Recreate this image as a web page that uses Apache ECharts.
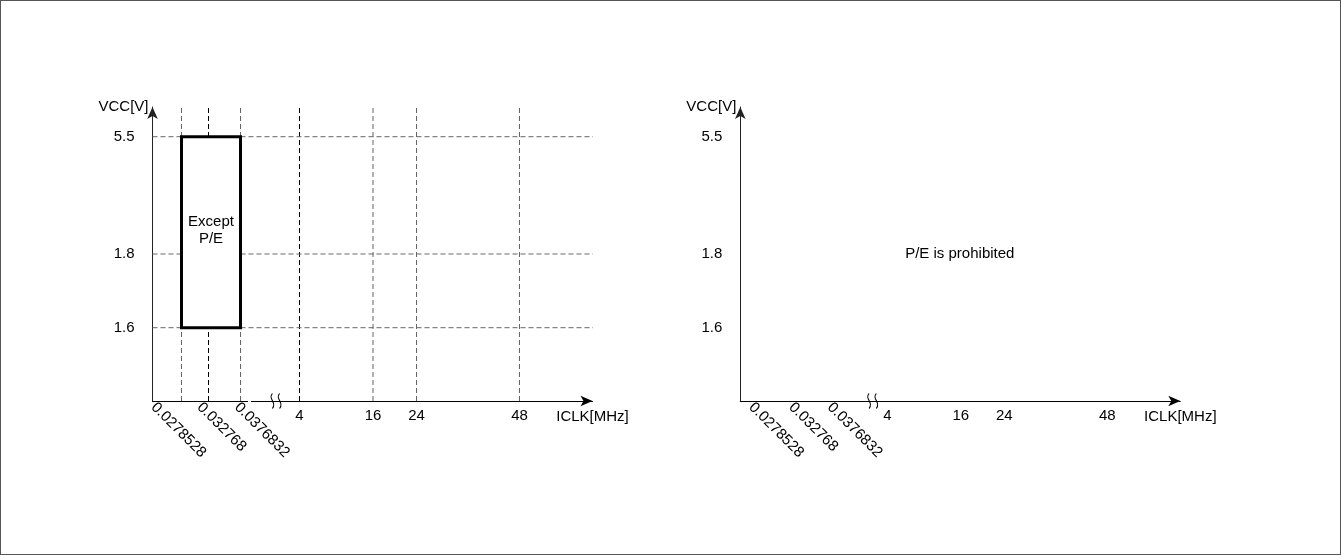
<!DOCTYPE html>
<html>
<head>
	<meta charset="UTF-8">
	<title></title>
	<script src="https://cdn.jsdelivr.net/npm/echarts@6/dist/echarts.min.js"></script>
	<style>
		html, body { margin: 0; padding: 0; background: #fff; }
		#main { width: 1341px; height: 555px; box-sizing: border-box; border: 1px solid #555; }
	</style>
</head>
<body>
	<div id="main"></div>
	<script type="text/javascript">
		// ICLK ticks (MHz) and where each sits on the schematic (non linear) axis
		var iclkLabels = ['0.0278528', '0.032768', '0.0376832', '4', '16', '24', '48'];
		var iclkAxisPos = [29, 56, 88, 147, 220.5, 264, 367];
		// VCC ticks (V) and their schematic axis positions
		var vccLabels = ['1.6', '1.8', '5.5'];
		var vccAxisPos = [73.3, 147, 264.3];
		// P/E window of the left chart
		var peFreq = ['0.0278528', '0.0376832'];
		var peVcc = ['1.6', '5.5'];
		var peText = 'Except\nP/E';
		var prohibitedText = 'P/E is prohibited';

		var X_MAX = 440, Y_MAX = 294;
		var font = 'Liberation Sans, Arial, sans-serif';

		function xOf(lbl) { return iclkAxisPos[iclkLabels.indexOf(lbl)]; }
		function yOf(lbl) { return vccAxisPos[vccLabels.indexOf(lbl)]; }
		function nearest(v, pos, labels) {
			for (var i = 0; i < pos.length; i++) {
				if (Math.abs(pos[i] - v) < 0.01) return labels[i];
			}
			return '';
		}

		// two panels: left has the grid + window, right just the note
		var panels = [
			{ left: 151.5, withGrid: true, rotAnchors: [1, 47, 84.5], breakAt: 123.5, gapAt: 97 },
			{ left: 739.3, withGrid: false, rotAnchors: [11, 51, 89.5], breakAt: 132.4, gapAt: null }
		];
		var darkLines = ['0.032768', '4'];
		var breakPath = 'path://M3,0 C-1,5 7,8 3,14 M9,0 C5,5 13,8 9,14';

		var grids = [], xAxes = [], yAxes = [], series = [];

		panels.forEach(function(p, i) {
			grids.push({ left: p.left, top: 106, width: X_MAX, height: Y_MAX });
			var rotLabels = iclkLabels.slice(0, 3);
			xAxes.push({
				gridIndex: i, type: 'value', min: 0, max: X_MAX,
				axisLine: {
					show: true, symbol: ['none', 'arrow'], symbolSize: [8, 12], symbolOffset: [0, 0],
					lineStyle: { color: '#000', width: 1 }
				},
				axisTick: { show: false }, splitLine: { show: false },
				axisLabel: {
					show: true, customValues: iclkAxisPos.slice(3), margin: 7,
					color: '#000', fontSize: 15, fontFamily: font,
					formatter: function(v) { return nearest(v, iclkAxisPos, iclkLabels); }
				},
				name: 'ICLK[MHz]', nameLocation: 'end', nameGap: 0, nameMoveOverlap: false,
				nameTextStyle: { align: 'center', verticalAlign: 'top', padding: [8, 0, 0, 0], color: '#000', fontSize: 15, fontFamily: font }
			});
			xAxes.push({
				gridIndex: i, type: 'value', min: 0, max: X_MAX, position: 'bottom',
				axisLine: { show: false }, axisTick: { show: false }, splitLine: { show: false },
				axisLabel: {
					show: true, customValues: p.rotAnchors, rotate: -45, margin: 4,
					color: '#000', fontSize: 15, fontFamily: font,
					formatter: function(v) { return nearest(v, p.rotAnchors, rotLabels); }
				}
			});
			yAxes.push({
				gridIndex: i, type: 'value', min: 0, max: Y_MAX,
				axisLine: {
					show: true, symbol: ['none', 'arrow'], symbolSize: [8, 12], symbolOffset: [0, 0],
					lineStyle: { color: '#222', width: 1 }
				},
				axisTick: { show: false }, splitLine: { show: false },
				axisLabel: {
					show: true, customValues: vccAxisPos, margin: 18,
					color: '#000', fontSize: 15, fontFamily: font,
					formatter: function(v) { return nearest(v, vccAxisPos, vccLabels); }
				},
				name: 'VCC[V]', nameLocation: 'end', nameGap: 0, nameMoveOverlap: false,
				nameTextStyle: { align: 'right', verticalAlign: 'middle', padding: [2, 4, 0, 0], color: '#000', fontSize: 15, fontFamily: font }
			});

			var xi = i * 2, yi = i;
			if (p.withGrid) {
				iclkLabels.forEach(function(lbl, k) {
					series.push({
						type: 'line', xAxisIndex: xi, yAxisIndex: yi, silent: true, symbol: 'none', z: 1,
						data: [[iclkAxisPos[k], 0], [iclkAxisPos[k], Y_MAX]],
						lineStyle: { type: [5, 3], width: 1, color: darkLines.indexOf(lbl) >= 0 ? '#000' : '#666' }
					});
				});
				vccLabels.forEach(function(lbl, k) {
					series.push({
						type: 'line', xAxisIndex: xi, yAxisIndex: yi, silent: true, symbol: 'none', z: 1,
						data: [[0, vccAxisPos[k]], [X_MAX + 1.5, vccAxisPos[k]]],
						lineStyle: { type: [5, 3], width: 1, color: '#666' }
					});
				});
				var x0 = xOf(peFreq[0]), x1 = xOf(peFreq[1]);
				var y0 = yOf(peVcc[0]), y1 = yOf(peVcc[1]);
				// the window: white box with a heavy frame, covering the dashed grid
				series.push({
					type: 'custom', xAxisIndex: xi, yAxisIndex: yi, silent: true, z: 5,
					data: [[x0, y0, x1, y1]],
					renderItem: function(params, api) {
						var a = api.coord([api.value(0), api.value(1)]);
						var b = api.coord([api.value(2), api.value(3)]);
						return {
							type: 'rect',
							shape: { x: a[0], y: b[1], width: b[0] - a[0], height: a[1] - b[1] },
							style: { fill: '#fff', stroke: '#000', lineWidth: 3, lineJoin: 'miter' }
						};
					}
				});
				series.push({
					type: 'scatter', xAxisIndex: xi, yAxisIndex: yi, silent: true, z: 6,
					symbolSize: 1, itemStyle: { color: 'rgba(0,0,0,0)', opacity: 1 },
					data: [[(x0 + x1) / 2, (y0 + y1) / 2 + 1.5]],
					label: {
						show: true, position: 'inside', formatter: peText,
						color: '#000', fontSize: 15, lineHeight: 17, fontFamily: font
					}
				});
			} else {
				series.push({
					type: 'scatter', xAxisIndex: xi, yAxisIndex: yi, silent: true, z: 6,
					symbolSize: 1, itemStyle: { color: 'rgba(0,0,0,0)', opacity: 1 },
					data: [[xOf('16') - 1, yOf('1.8')]],
					label: {
						show: true, position: 'inside', formatter: prohibitedText,
						color: '#000', fontSize: 15, fontFamily: font
					}
				});
			}
			if (p.gapAt !== null) {
				series.push({
					type: 'scatter', xAxisIndex: xi, yAxisIndex: yi, silent: true, z: 6,
					symbol: 'rect', symbolSize: [3, 4], itemStyle: { color: '#fff', opacity: 1 },
					data: [[p.gapAt, 0]]
				});
			}
			series.push({
				type: 'scatter', xAxisIndex: xi, yAxisIndex: yi, silent: true, z: 7,
				symbol: breakPath, symbolSize: [10, 15], symbolKeepAspect: false,
				itemStyle: { color: 'rgba(0,0,0,0)', borderColor: '#000', borderWidth: 1.2, opacity: 1 },
				data: [[p.breakAt, 0]]
			});
		});

		var my_echarts = echarts.init(document.getElementById('main'));
		var option = {
			animation: false,
			backgroundColor: '#fff',
			grid: grids,
			xAxis: xAxes,
			yAxis: yAxes,
			series: series
		};
		my_echarts.setOption(option);
	</script>
</body>
</html>
